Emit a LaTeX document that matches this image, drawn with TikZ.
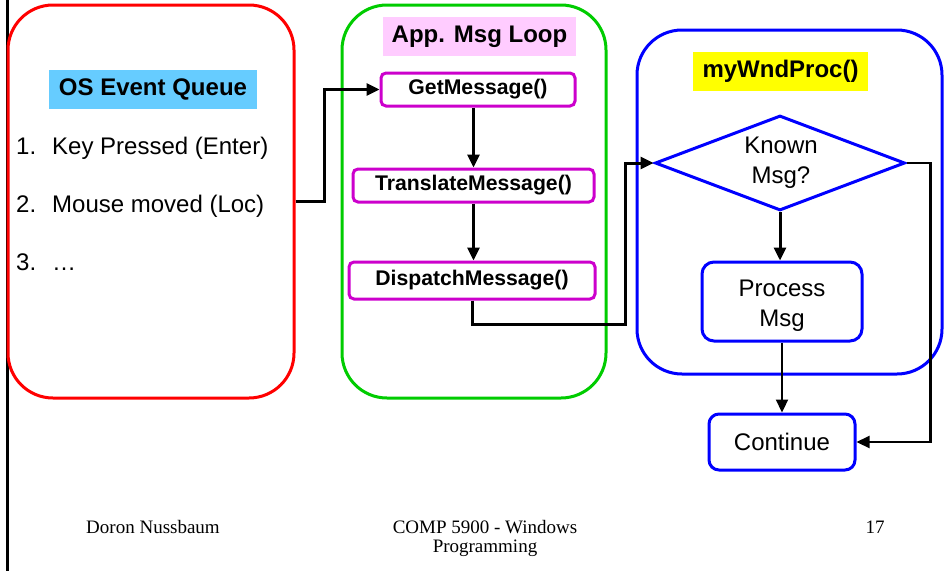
\documentclass[tikz,border=0pt]{standalone}
\usepackage{fontspec}
\setmainfont{Liberation Sans}
\newfontfamily\footfont{Liberation Serif}
\usetikzlibrary{arrows.meta,shapes.geometric}

\definecolor{qred}{HTML}{FF0000}
\definecolor{qgreen}{HTML}{00CC00}
\definecolor{qblue}{HTML}{0000FF}
\definecolor{qmag}{HTML}{CC00CC}
\definecolor{qsky}{HTML}{66CCFF}
\definecolor{qpink}{HTML}{FFCCFF}
\definecolor{qyellow}{HTML}{FFFF00}

\tikzset{
  panel/.style={draw=#1, line width=3pt, rounded corners=45pt, inner sep=0pt},
  tag/.style={fill=#1, inner sep=0pt, font=\fontsize{24}{28}\selectfont\bfseries},
  callbox/.style={draw=qmag, line width=3pt, rounded corners=5pt, inner sep=0pt,
    font=\fontsize{21.2}{25}\selectfont\bfseries},
  procbox/.style={draw=qblue, line width=3pt, rounded corners=12pt, inner sep=0pt},
  plain/.style={align=center, inner sep=0pt, font=\fontsize{24}{30}\selectfont},
  item/.style={anchor=base west, inner sep=0pt, font=\fontsize{24}{28}\selectfont},
  flow/.style={line width=3pt, -{Triangle[length=13pt,width=12pt]}},
  thinflow/.style={line width=2.2pt, -{Triangle[length=13pt,width=12pt]}},
  foot/.style={inner sep=0pt, font=\footfont\fontsize{19}{19}\selectfont},
}

\begin{document}
\begin{tikzpicture}[x=1pt, y=-1pt]
  \useasboundingbox (0,0) rectangle (951,571);

  % page margin rule
  \draw[line width=3pt] (7.5,0) -- (7.5,571);

  % three panels
  \node[panel=qred,   minimum width=286pt, minimum height=393pt] (queue) at (151,201.5) {};
  \node[panel=qgreen, minimum width=264pt, minimum height=393pt] (loop)  at (474,201.5) {};
  \node[panel=qblue,  minimum width=305pt, minimum height=344pt] (proc)  at (789.5,202) {};

  % panel titles
  \node[tag=qsky,    minimum width=208pt, minimum height=39pt] (qtitle) at (153,89.5) {OS Event Queue};
  \node[tag=qpink,   minimum width=193pt, minimum height=39pt] (ltitle) at (479.5,36.5) {App. Msg Loop};
  \node[tag=qyellow, minimum width=175pt, minimum height=39pt] (ptitle) at (780.5,71.5) {myWndProc()};

  % queued events
  \node[item] (n1) at (16,154) {1.};
  \node[item] (e1) at (52,154) {Key Pressed (Enter)};
  \node[item] (n2) at (16,212) {2.};
  \node[item] (e2) at (52,212) {Mouse moved (Loc)};
  \node[item] (n3) at (16,270) {3.};
  \node[item] (e3) at (52,270) {\ldots};

  % message loop calls
  \node[callbox, minimum width=194pt, minimum height=33pt] (get)  at (478,89.5)  {GetMessage()};
  \node[callbox, minimum width=241pt, minimum height=33pt] (tran) at (473.5,185.5) {TranslateMessage()};
  \node[callbox, minimum width=246pt, minimum height=37pt] (disp) at (472,280.5) {DispatchMessage()};

  % window procedure
  \node[diamond, draw=qblue, line width=3pt, inner sep=0pt, aspect=2.63,
        minimum width=250pt, minimum height=95pt] (dia) at (780,163) {};
  \node[plain] (diatext) at (781,162.5) {Known\\Msg?};
  \node[procbox, minimum width=160pt, minimum height=79pt] (work) at (782,301.5) {};
  \node[plain] (worktext) at (782,306) {Process\\Msg};
  \node[procbox, rounded corners=10pt, minimum width=146pt, minimum height=56pt] (cont) at (782,442) {};
  \node[plain] (conttext) at (782,442) {Continue};

  % connectors
  \draw[flow] (queue.east) -- ++(29,0) |- (get.west);
  \draw[flow] (tran.north |- get.south) -- (tran.north);
  \draw[flow] (tran.south) -- (tran.south |- disp.north);
  \coordinate (dbend) at (625.5,324);
  \draw[flow] (disp.south) |- (dbend) |- (dia.west);
  \draw[flow] (dia.south) -- (dia.south |- work.north);
  \draw[thinflow] (work.south) -- (cont.north);
  \draw[thinflow] (dia.east) -- ++(24,0) |- (cont.east);

  % footer
  \node[foot, anchor=base] (author) at (153,533) {Doron Nussbaum};
  \node[foot, anchor=base] (course1) at (485,533) {COMP 5900 - Windows};
  \node[foot, anchor=base] (course2) at (485,552) {Programming};
  \node[foot, anchor=base] (page) at (875,533) {17};
\end{tikzpicture}
\end{document}
